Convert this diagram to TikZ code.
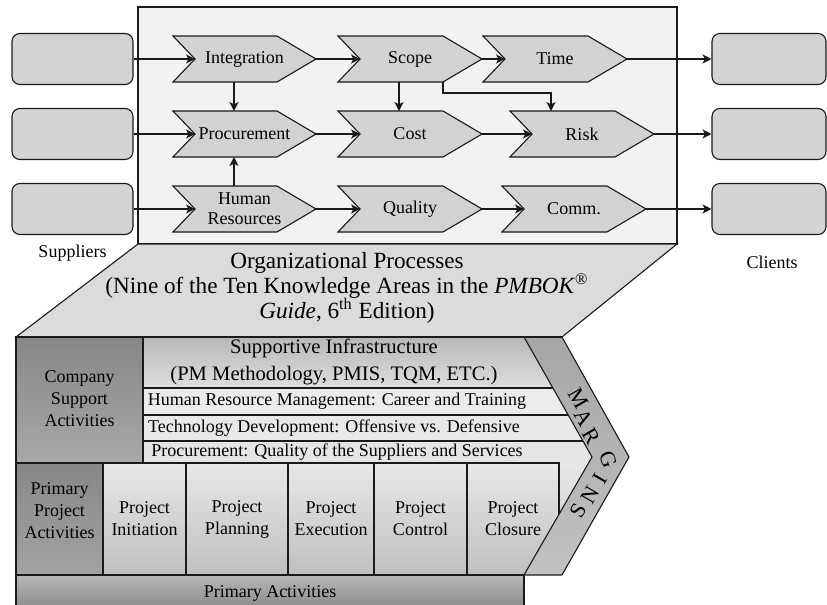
\documentclass[tikz,border=0pt]{standalone}
\usepackage{fontspec}
\setmainfont{Liberation Serif}
\usepackage{tikz}
\usetikzlibrary{arrows.meta,calc}
\definecolor{pmline}{HTML}{1A1A1A}
\definecolor{pmback}{HTML}{F1F2F4}
\definecolor{pmchev}{HTML}{D2D2D4}
\definecolor{pmend}{HTML}{D3D3D5}
\definecolor{pmtrap}{HTML}{DBDBDB}
\newcommand{\fsnorm}{\fontsize{9}{11}\selectfont}
\newcommand{\fschev}{\fontsize{9}{10}\selectfont}
\newcommand{\fsmid}{\fontsize{10.3}{13.5}\selectfont}
\newcommand{\fsbig}{\fontsize{11.6}{12.5}\selectfont}
\newcommand{\fsmarg}{\fontsize{11}{11}\selectfont}

\begin{document}
\begin{tikzpicture}[
  x=0.5pt, y=-0.5pt,
  line width=0.55pt,
  txt/.style={font=\fsnorm, align=center, inner sep=0pt},
  chev/.style={draw=pmline, fill=pmchev, line join=miter},
  endbox/.style={draw=pmline, fill=pmend, rounded corners=4pt,
                 minimum width=60.5pt, minimum height=25.5pt, inner sep=0pt},
  cell/.style={draw=pmline},
  conn/.style={->, draw=pmline},
  >={Stealth[length=4.5pt, width=4.6pt, inset=1.2pt]}]
\useasboundingbox (0,0) rectangle (827,605);

% ---------------- Organizational processes ----------------
\filldraw[draw=pmline, fill=pmback] (138,7) rectangle (677,244);
\filldraw[draw=pmline, fill=pmtrap] (138,244) -- (677,244) -- (562,337)
  -- (16,337) -- cycle;
\node[txt, font=\fsbig] (orgproc) at (347,288)
  {Organizational Processes\\
   (Nine of the Ten Knowledge Areas in the \textit{PMBOK}\textsuperscript{\textregistered}\\
   \textit{Guide}, 6\textsuperscript{th} Edition)};

% knowledge areas: name/left/tip/row/label
\foreach \n/\l/\t/\y/\lab in {int/173/316/59/Integration, scope/338/482/59/Scope,
    time/483/627/59/Time, proc/173/316/134/Procurement, cost/338/482/134/Cost,
    risk/510/654/134/Risk, hr/173/316/209/{Human\\Resources},
    qual/338/482/209/Quality, comm/502/646/209/Comm.}{
  \filldraw[chev] (\l,\y-23) -- (\t-39,\y-23) -- (\t,\y) -- (\t-39,\y+23)
    -- (\l,\y+23) -- (\l+22,\y) -- cycle;
  \node[txt, font=\fschev] (\n) at ({(\l+\t)/2},\y) {\lab};
  \coordinate (\n-in)  at (\l+22,\y);
  \coordinate (\n-out) at (\t,\y);
  \coordinate (\n-top) at (\l+61,\y-23);
  \coordinate (\n-bot) at (\l+61,\y+23);
  \coordinate (\n-se)  at (\t-39,\y+23);
}

% suppliers and clients
\foreach \i/\y in {1/59, 2/134, 3/209}{
  \node[endbox] (sup\i) at (72.5,\y) {};
  \node[endbox, minimum width=57pt] (cli\i) at (769,\y) {};
}
\node[txt] (suplab) at (72.5,253) {Suppliers};
\node[txt] (clilab) at (772,262) {Clients};

\draw[conn] (sup1.east) -- (int-in);
\draw[conn] (sup2.east) -- (proc-in);
\draw[conn] (sup3.east) -- (hr-in);
\foreach \a/\b in {int/scope, scope/time, proc/cost, cost/risk, hr/qual, qual/comm}
  \draw[conn] (\a-out) -- (\b-in);
\draw[conn] (time-out) -- (cli1.west);
\draw[conn] (risk-out) -- (cli2.west);
\draw[conn] (comm-out) -- (cli3.west);
\draw[conn] (int-bot) -- (proc-top);
\draw[conn] (hr-top) -- (proc-bot);
\draw[conn] (scope-bot) -- (cost-top);
\draw[conn] (scope-se) -- ++(0,11) -| ($(risk-top)+(-20,0)$);

% ---------------- Value chain ----------------
\shade[top color=black!47, bottom color=black!34] (16,337) rectangle (143,463);
\shade[top color=black!47, bottom color=black!36] (16,463) rectangle (103,575);
\shade[top color=black!28, bottom color=black!13] (143,337) -- (524,337)
  -- (552.9,388) -- (143,388) -- cycle;
\fill[black!8] (143,388) -- (552.9,388) -- (568.2,415) -- (143,415) -- cycle;
\fill[black!9] (143,415) -- (568.2,415) -- (582.9,441) -- (143,441) -- cycle;
\fill[black!10] (143,441) -- (582.9,441) -- (592,457) -- (588.5,463)
  -- (143,463) -- cycle;
\shade[top color=black!9, bottom color=black!25] (103,463) -- (588.5,463)
  -- (524,575) -- (103,575) -- cycle;
\shade[top color=black!28, bottom color=black!44] (16,575) rectangle (524,605);
\shade[top color=black!35, middle color=black!11, bottom color=black!24]
  (524,337) -- (562,337) -- (629,457) -- (562,575) -- (524,575) -- (592,457) -- cycle;

% cell borders
\draw[cell] (16,605) -- (16,337) -- (562,337);
\draw[cell] (524,337) -- (562,337) -- (629,457) -- (562,575) -- (524,575)
  -- (592,457) -- cycle;
\draw[cell] (143,337) -- (143,463);
\foreach \yy/\xx in {388/552.9, 415/568.2, 441/582.9}
  \draw[cell] (143,\yy) -- (\xx,\yy);
\draw[cell] (16,463) -- (559,463) -- (559,514.3);
\draw[cell] (103,463) -- (103,575);
\foreach \xx in {186,288,374,467}
  \draw[cell] (\xx,463) -- (\xx,575);
\draw[cell] (16,575) -- (524,575) -- (524,605);

\node[txt] (compsup) at (79.5,399) {Company\\Support\\Activities};
\node[txt, font=\fsmid] (suppinf) at (334,361.5)
  {Supportive Infrastructure\\(PM Methodology, PMIS, TQM, ETC.)};
\node[txt] (hrm)  at (337,401.5) {Human Resource Management: Career and Training};
\node[txt] (tech) at (334,428) {Technology Development: Offensive vs. Defensive};
\node[txt] (proq) at (337,452) {Procurement: Quality of the Suppliers and Services};
\node[txt] (primproj) at (59.5,511) {Primary\\Project\\Activities};
\foreach \n/\xx/\lab in {init/144.5/Initiation, plan/237/Planning,
    exec/331/Execution, ctrl/420.5/Control, clos/513/Closure}
  \node[txt] (\n) at (\xx,519) {Project\\\lab};
\node[txt] (primact) at (270,593) {Primary Activities};

% margins lettering
\foreach \ch/\px/\py/\r in {M/579/398/-60, A/584/418/-60, R/591/436/-60,
    G/608/460/-70, I/600/479/60, N/590/495/60, S/578/511/60}
  \node[font=\fsmarg, rotate=\r, inner sep=0pt] (marg-\ch) at (\px,\py) {\ch};
\end{tikzpicture}
\end{document}
